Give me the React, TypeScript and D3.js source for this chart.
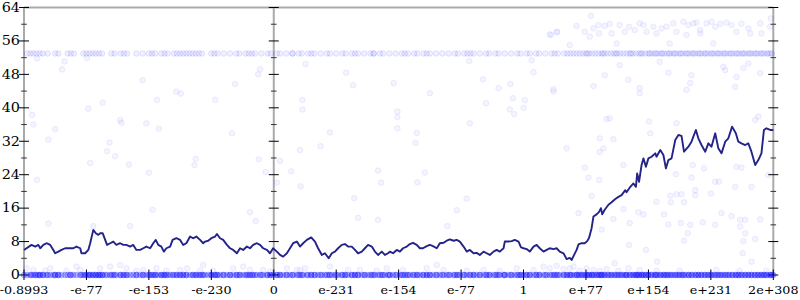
import React from 'react';
import * as d3 from 'd3';

const xTickValues = [-4, -3, -2, -1, 0, 1, 2, 3, 4, 5, 6, 7, 8];
const xTickLabels = ['-0.8993', '-e-77', '-e-153', '-e-230', '0', 'e-231', 'e-154', 'e-77', '1', 'e+77', 'e+154', 'e+231', '2e+308'];
const yMajorTicks = [0, 8, 16, 24, 32, 40, 48, 56, 64];
const yMinorTicks = [4, 12, 20, 28, 36, 44, 52, 60];
const axisPositions = [-4, 0, 8];

// running median line [x (tick units), value]
const medianLine: [number, number][] = [
  [-4.00, 6.0], [-3.88, 7.2], [-3.82, 6.8], [-3.77, 7.2], [-3.74, 6.4], [-3.69, 7.2], [-3.64, 7.6], [-3.58, 7.2], [-3.53, 6.0], [-3.50, 5.2],
  [-3.45, 5.6], [-3.40, 6.0], [-3.34, 6.4], [-3.26, 6.4], [-3.21, 6.4], [-3.16, 6.8], [-3.10, 6.4], [-3.08, 5.2], [-3.02, 5.2], [-2.97, 6.0],
  [-2.94, 7.6], [-2.89, 10.8], [-2.85, 10.0], [-2.81, 9.6], [-2.78, 10.0], [-2.74, 10.0], [-2.70, 8.4], [-2.67, 7.2], [-2.62, 7.6], [-2.57, 8.0],
  [-2.52, 7.2], [-2.46, 7.6], [-2.41, 7.2], [-2.36, 7.2], [-2.30, 6.8], [-2.25, 7.2], [-2.20, 6.0], [-2.14, 6.0], [-2.09, 6.4], [-2.04, 6.8],
  [-1.98, 6.4], [-1.93, 7.6], [-1.89, 8.4], [-1.85, 7.2], [-1.80, 6.8], [-1.76, 5.6], [-1.72, 6.4], [-1.66, 6.8], [-1.62, 8.4], [-1.56, 8.8],
  [-1.50, 8.4], [-1.45, 7.2], [-1.40, 7.6], [-1.34, 9.2], [-1.29, 8.8], [-1.24, 9.2], [-1.18, 8.4], [-1.13, 7.6],
  [-1.10, 8.0], [-1.05, 8.2], [-1.00, 8.8], [-0.94, 9.2], [-0.91, 9.8], [-0.86, 8.8], [-0.81, 8.4], [-0.75, 7.2], [-0.70, 6.4], [-0.65, 6.0],
  [-0.59, 5.2], [-0.54, 6.4], [-0.49, 6.0], [-0.43, 6.8], [-0.38, 6.4], [-0.33, 7.2], [-0.27, 7.6], [-0.22, 7.2], [-0.17, 6.4], [-0.11, 6.0],
  [-0.06, 5.2], [-0.01, 6.4], [0.05, 5.6], [0.10, 4.8], [0.15, 4.4], [0.21, 5.2], [0.26, 6.4], [0.31, 7.6], [0.37, 8.0], [0.42, 6.8],
  [0.47, 7.6], [0.53, 8.4], [0.60, 9.0], [0.66, 8.0], [0.71, 6.4], [0.77, 4.8], [0.82, 5.2], [0.88, 4.0], [0.93, 5.2], [0.98, 5.6],
  [1.03, 6.4], [1.09, 7.2], [1.14, 7.4], [1.19, 6.8], [1.25, 6.8], [1.30, 6.0], [1.35, 5.2], [1.41, 5.6], [1.46, 6.4], [1.51, 7.2],
  [1.57, 6.8], [1.62, 5.6], [1.67, 4.8], [1.73, 5.6], [1.78, 4.8], [1.83, 5.2],
  [1.86, 5.6], [1.91, 5.2], [1.97, 6.0], [2.02, 5.6], [2.07, 6.4], [2.13, 6.8], [2.18, 7.4], [2.23, 7.7], [2.29, 7.2], [2.34, 6.4],
  [2.39, 6.4], [2.45, 6.9], [2.50, 7.2], [2.55, 6.9], [2.61, 6.4], [2.66, 7.6], [2.72, 7.7], [2.77, 8.2], [2.82, 8.5], [2.88, 8.2],
  [2.93, 8.4], [2.98, 8.0], [3.04, 6.8], [3.09, 5.6], [3.14, 6.0], [3.20, 5.2], [3.25, 5.3], [3.30, 4.8], [3.36, 5.6], [3.41, 5.2],
  [3.46, 4.8], [3.52, 5.6], [3.57, 6.0], [3.62, 5.6], [3.68, 6.4], [3.70, 8.0], [3.76, 8.0], [3.81, 8.1], [3.86, 8.4], [3.92, 8.0],
  [3.96, 6.6], [4.00, 6.4], [4.05, 6.2], [4.10, 5.6], [4.16, 6.8], [4.21, 7.2], [4.26, 6.4], [4.32, 5.6], [4.37, 6.0], [4.42, 6.4],
  [4.48, 6.2], [4.53, 6.4], [4.58, 5.6],
  [4.64, 5.2], [4.69, 3.8], [4.74, 4.1], [4.77, 3.6], [4.81, 4.8], [4.85, 6.0], [4.88, 7.3], [4.93, 7.6], [4.98, 7.6], [5.02, 8.1],
  [5.05, 8.9], [5.09, 11.2], [5.12, 14.0], [5.17, 14.5], [5.21, 15.1], [5.24, 16.0], [5.26, 14.5], [5.30, 15.6], [5.36, 16.8], [5.41, 17.4],
  [5.47, 18.2], [5.52, 18.7], [5.57, 19.1], [5.63, 20.3], [5.65, 19.8], [5.71, 21.1], [5.76, 21.9], [5.80, 21.1], [5.82, 24.3], [5.85, 22.3],
  [5.89, 26.3], [5.92, 27.9], [5.96, 25.9], [6.00, 27.9], [6.05, 28.3], [6.11, 29.1], [6.13, 28.3], [6.19, 29.9], [6.24, 28.7], [6.28, 25.5],
  [6.32, 27.5], [6.37, 27.9], [6.43, 32.3], [6.48, 33.5], [6.53, 33.3], [6.57, 29.5], [6.64, 30.7], [6.69, 31.9], [6.76, 34.7], [6.80, 32.7],
  [6.85, 31.1], [6.91, 29.5], [6.96, 31.5], [7.01, 30.7], [7.07, 33.9], [7.12, 30.3], [7.17, 29.1], [7.23, 31.9], [7.28, 32.7], [7.34, 35.5],
  [7.40, 33.9], [7.44, 31.9], [7.49, 31.5], [7.55, 31.1], [7.60, 31.5], [7.65, 29.5], [7.71, 26.3], [7.76, 27.5], [7.81, 29.1], [7.85, 34.7],
  [7.89, 35.1], [7.95, 34.7], [8.00, 34.7],
];

// the dense row of samples at 53
const bandTopValue = 53;
const bandTopX: number[] = [
  -3.95, -3.9, -3.85, -3.8, -3.75, -3.7, -3.62, -3.5, -3.45, -3.3, -3.25, -3.05, -3.0, -2.95, -2.9, -2.85, -2.8, -2.75, -2.6, -2.55,
  -2.45, -2.4, -2.35, -2.2, -2.1, -2.0, -1.95, -1.9, -1.8, -1.75, -1.7, -1.6, -1.55, -1.5, -1.45, -1.4, -1.3, -1.25, -1.2, -1.15,
  -1.0, -0.95, -0.9, -0.8, -0.7, -0.6, -0.55, -0.45, -0.4, -0.35, -0.3, -0.2, -0.1, -0.05, 0.05, 0.1, 0.2, 0.3, 0.4, 0.45,
  0.55, 0.6, 0.65, 0.75, 0.85, 0.9, 1.0, 1.1, 1.15, 1.25, 1.3, 1.35, 1.45, 1.55, 1.6, 1.7, 1.75, 1.85, 1.95, 2.05,
  2.1, 2.15, 2.25, 2.3, 2.4, 2.45, 2.5, 2.6, 2.7, 2.8, 2.9, 2.95, 3.05, 3.15, 3.2, 3.3, 3.4, 3.45, 3.55, 3.6,
  3.7, 3.8, 3.9, 3.95, 4.05, 4.1, 4.2, 4.25, 4.35, 4.45, 4.5, 4.55, 4.65, 4.7, 4.75, 4.85, 4.9, 4.95, 5.0, 5.05,
  5.1, 5.15, 5.2, 5.25, 5.3, 5.35, 5.4, 5.45, 5.5, 5.55, 5.6, 5.65, 5.7, 5.75, 5.8, 5.85, 5.9, 5.95, 6.0, 6.05,
  6.1, 6.15, 6.2, 6.25, 6.3, 6.35, 6.4, 6.45, 6.5, 6.55, 6.6, 6.65, 6.7, 6.75, 6.8, 6.85, 6.9, 6.95, 7.0, 7.05,
  7.1, 7.15, 7.2, 7.25, 7.3, 7.35, 7.4, 7.45, 7.5, 7.55, 7.6, 7.65, 7.7, 7.75, 7.8, 7.85, 7.9, 7.95, 7.98,
];
// extra repeated hits on the 53 row (denser on the right)
const bandTopExtraX: number[] = [
  -3.2, -1.35, 0.3, 1.6, 3.1, 4.8, 5.02, 5.27, 5.48, 5.72, 5.88, 6.02, 6.12, 6.22, 6.33, 6.42, 6.52, 6.62, 6.72, 6.82,
  6.92, 7.02, 7.12, 7.22, 7.32, 7.42, 7.52, 7.62, 7.72, 7.82, 7.92,
];

// samples scattered above / below
const scatterPoints: [number, number][] = [
  [-3.79, 51.8], [-3.35, 51.1], [-3.39, 49.2], [-2.99, 51.9], [-2.10, 46.6], [-1.56, 43.9], [-1.49, 43.4], [-2.74, 41.2], [-1.87, 41.9], [-0.94, 41.9],
  [-0.62, 45.7], [-0.25, 48.0], [-0.22, 49.2], [-2.97, 39.8], [-3.87, 38.3], [-3.85, 36.0], [-3.50, 34.9], [-3.61, 32.4], [-2.46, 37.1], [-2.44, 36.4],
  [-2.04, 36.3], [-1.84, 35.0], [-0.67, 33.9], [-2.63, 31.7], [-2.67, 29.6], [-2.54, 28.4], [-2.94, 26.8], [-2.32, 26.4], [-2.00, 24.5], [-1.25, 27.8],
  [-1.27, 26.3], [-0.24, 27.7], [-0.13, 24.6], [-3.79, 22.8], [-1.94, 15.6], [-0.38, 15.0], [-0.29, 12.9], [-3.61, 12.3], [-2.89, 11.7], [-2.30, 11.7],
  [0.51, 50.5], [1.16, 48.4], [1.27, 45.4], [1.92, 45.9], [2.50, 43.5], [0.46, 41.9], [0.46, 39.6], [0.90, 34.1], [1.98, 39.1], [1.98, 37.8],
  [1.98, 35.1], [2.29, 34.0], [2.27, 31.6], [3.13, 51.2], [3.35, 46.8], [3.60, 44.7], [3.79, 45.7], [3.83, 42.3], [4.02, 41.8], [3.40, 41.1],
  [3.78, 39.6], [3.85, 38.5], [4.00, 40.0], [3.14, 36.3], [4.13, 51.4], [4.16, 48.5], [4.48, 43.9], [4.44, 57.4], [4.54, 58.1], [0.75, 30.8],
  [0.42, 29.9], [0.10, 27.3], [0.28, 24.8], [0.43, 21.2], [0.05, 22.1], [1.67, 25.0], [1.72, 22.1], [2.42, 24.5], [2.30, 22.2], [1.29, 18.4],
  [1.35, 13.7], [1.67, 13.2], [2.93, 15.5], [3.09, 18.3], [2.78, 11.7],
  [5.08, 62.0], [4.53, 58.2], [4.42, 57.6], [4.85, 59.6], [4.98, 58.2], [5.12, 59.0], [5.20, 59.8], [5.21, 57.8], [5.30, 59.6], [5.38, 60.1],
  [5.41, 57.8], [5.54, 59.8], [5.62, 58.2], [5.69, 59.4], [5.78, 58.6], [5.86, 60.2], [5.92, 59.8], [5.97, 58.2], [6.08, 59.4], [6.13, 57.8],
  [6.21, 59.0], [6.29, 59.4], [6.40, 60.2], [6.45, 58.2], [6.56, 60.6], [6.64, 59.8], [6.72, 60.2], [6.77, 60.4], [6.83, 58.6], [6.93, 60.2],
  [7.01, 60.6], [7.07, 59.4], [7.15, 60.1], [7.25, 60.4], [7.33, 59.8], [7.41, 58.2], [7.49, 60.1], [7.60, 59.0], [7.63, 57.8], [7.79, 60.2],
  [7.81, 57.8], [7.95, 59.4], [7.96, 61.4], [6.83, 57.8], [6.61, 57.4], [5.06, 57.0], [5.49, 55.4], [4.74, 55.0], [6.34, 55.4], [7.04, 55.4],
  [6.18, 51.0], [6.32, 48.4], [5.54, 50.2], [5.30, 47.8], [5.68, 46.7], [5.86, 44.7], [6.69, 47.8], [6.67, 45.9], [7.20, 49.8], [7.23, 49.0],
  [7.41, 47.4], [7.52, 49.5], [7.60, 50.6], [7.79, 48.3], [7.39, 45.0], [4.48, 44.4], [5.12, 45.2], [5.86, 43.5], [6.61, 44.3],
  [4.69, 30.3], [4.98, 25.7], [5.04, 23.3], [5.21, 22.7], [5.09, 18.9], [4.88, 14.8], [5.25, 10.9], [5.44, 13.4], [5.60, 15.8], [5.84, 15.0],
  [5.92, 14.5], [5.70, 12.4], [5.69, 7.2], [5.96, 6.0], [6.14, 3.2], [6.13, 17.5], [6.35, 19.0], [6.36, 17.4], [6.45, 19.3], [6.53, 19.3],
  [6.57, 17.4], [6.25, 14.5], [6.32, 12.1], [6.52, 12.4], [6.67, 12.0], [6.63, 10.0], [6.57, 8.2], [6.75, 20.3], [6.75, 19.1], [6.87, 12.6],
  [7.07, 12.0], [7.17, 14.8], [7.33, 14.1], [7.47, 13.2], [7.55, 13.2], [7.79, 13.3], [7.47, 11.6], [7.55, 10.0], [7.71, 8.6], [7.52, 8.1],
  [7.51, 5.2], [7.07, 22.3], [7.13, 22.3], [7.39, 21.1], [7.65, 21.1], [7.00, 19.5], [7.41, 25.9], [7.49, 25.7], [6.89, 25.5], [6.71, 26.3],
  [6.69, 23.3], [6.44, 24.1], [6.03, 33.9], [6.01, 36.7], [5.22, 32.7], [5.44, 32.5], [5.28, 30.3], [5.22, 29.4], [5.60, 26.3], [5.33, 37.3],
  [5.38, 37.5], [6.45, 36.3], [7.76, 37.9], [7.71, 37.1], [7.92, 23.9], [7.65, 3.2],
];

// samples just above zero
const lowPoints: [number, number][] = [
  [-3.96, 1.6], [-3.85, 1.2], [-3.66, 1.0], [-3.58, 1.6], [-3.32, 1.0], [-3.16, 2.0], [-3.10, 1.2], [-2.78, 1.6], [-2.62, 2.0], [-2.46, 2.4],
  [-2.36, 1.6], [-2.20, 1.0], [-2.09, 1.2], [-1.88, 1.6], [-1.72, 1.0], [-1.50, 1.2], [-1.39, 1.6], [-1.18, 1.0], [-1.13, 2.4], [-0.97, 1.0],
  [-0.65, 1.6], [-0.49, 2.0], [-0.38, 1.2], [-0.17, 1.2], [-0.06, 0.8], [0.21, 1.6], [0.37, 1.2],
  [0.42, 1.2], [0.50, 1.6], [0.90, 2.0], [1.19, 1.2], [1.38, 1.2], [1.65, 1.0], [1.81, 1.6], [2.07, 1.2], [2.45, 1.6], [2.61, 2.4],
  [2.72, 1.2], [3.09, 1.0], [3.36, 1.2], [3.62, 1.0], [3.89, 1.6], [4.16, 1.2],
  [4.32, 2.0], [4.42, 1.6], [4.53, 2.2], [4.64, 1.4], [4.74, 1.6], [4.80, 2.0], [4.90, 1.0], [5.01, 1.6], [5.12, 1.2], [5.22, 1.0],
  [5.33, 1.4], [5.46, 2.8], [5.52, 1.0], [5.68, 1.6], [5.86, 1.2], [6.13, 1.0], [6.50, 1.0], [7.09, 1.2], [7.46, 1.0], [7.89, 1.0],
];

export default function App() {
  const width = 800;
  const height = 300;
  const x = d3.scaleLinear().domain([-4, 8]).range([24, 773.3]);
  const y = d3.scaleLinear().domain([0, 64]).range([275, 7.5]);
  const line = d3
    .line<[number, number]>()
    .x((d) => x(d[0]))
    .y((d) => y(d[1]))
    .curve(d3.curveLinear);

  const dotFill = 'rgba(0,0,255,0.045)';
  const dotStroke = 'rgba(0,0,255,0.07)';
  const r = 2.8;
  const stretch = 'scale(1.2,1)';
  const zeroBandX = [...medianLine.map((d) => d[0]), ...bandTopX];
  const topRow = [...bandTopX, ...bandTopExtraX];

  return (
    <svg
      width={width}
      height={height}
      style={{ position: 'absolute', left: 0, top: 0, background: '#fff' }}
      fontFamily="'DejaVu Serif', serif"
    >
      <defs>
        <filter id="soft" x="-5%" y="-5%" width="110%" height="110%">
          <feGaussianBlur stdDeviation="0.6" />
        </filter>
      </defs>
      {/* top frame line */}
      <line x1={x(-4)} x2={x(8)} y1={y(64)} y2={y(64)} stroke="#aaa" strokeWidth={2} />
      {/* vertical axes */}
      {axisPositions.map((a) => (
        <line key={'ax' + a} x1={x(a)} x2={x(a)} y1={y(64)} y2={y(0)} stroke="#aaa" strokeWidth={2} />
      ))}
      {/* y ticks on every vertical axis */}
      {axisPositions.map((a) => (
        <g key={'yt' + a}>
          {yMajorTicks.map((t) => (
            <line key={'M' + t} x1={x(a) - 5} x2={x(a) + 5} y1={y(t)} y2={y(t)} stroke="#000" strokeWidth={1} />
          ))}
          {yMinorTicks.map((t) => (
            <line key={'m' + t} x1={x(a) - 2.8} x2={x(a) + 2.8} y1={y(t)} y2={y(t)} stroke="#333" strokeWidth={1} />
          ))}
        </g>
      ))}
      {/* x ticks */}
      {xTickValues.map((t) => (
        <line key={'xt' + t} x1={x(t)} x2={x(t)} y1={y(0) - 5.5} y2={y(0) + 5} stroke="#000" strokeWidth={1} />
      ))}
      {/* y labels */}
      {yMajorTicks.map((t) => (
        <text
          key={'yl' + t}
          transform={`translate(20,${y(t)}) ${stretch}`}
          dy="0.36em"
          textAnchor="end"
          fontSize={12}
          fill="#000"
        >
          {t}
        </text>
      ))}
      {/* x labels */}
      {xTickValues.map((t, i) => (
        <text
          key={'xl' + t}
          transform={`translate(${x(t)},294) ${stretch}`}
          textAnchor="middle"
          fontSize={10.6}
          fill="#000"
        >
          {xTickLabels[i]}
        </text>
      ))}
      {/* scattered samples */}
      <g filter="url(#soft)">
        {scatterPoints.map((d, i) => (
          <circle key={'s' + i} cx={x(d[0])} cy={y(d[1])} r={r} fill={dotFill} stroke={dotStroke} />
        ))}
        {lowPoints.map((d, i) => (
          <circle key={'l' + i} cx={x(d[0])} cy={y(d[1])} r={r} fill={dotFill} stroke={dotStroke} />
        ))}
        {topRow.map((v, i) => (
          <circle key={'b' + i} cx={x(v)} cy={y(bandTopValue)} r={r} fill="rgba(0,0,255,0.06)" stroke="rgba(0,0,255,0.1)" />
        ))}
        {zeroBandX.map((v, i) => (
          <circle key={'z' + i} cx={x(v)} cy={y(0)} r={r} fill="rgba(0,0,255,0.22)" stroke="rgba(0,0,255,0.25)" />
        ))}
      </g>
      {/* median line */}
      <path d={line(medianLine) || ''} fill="none" stroke="#232389" strokeWidth={1.9} strokeLinejoin="round" />
    </svg>
  );
}
